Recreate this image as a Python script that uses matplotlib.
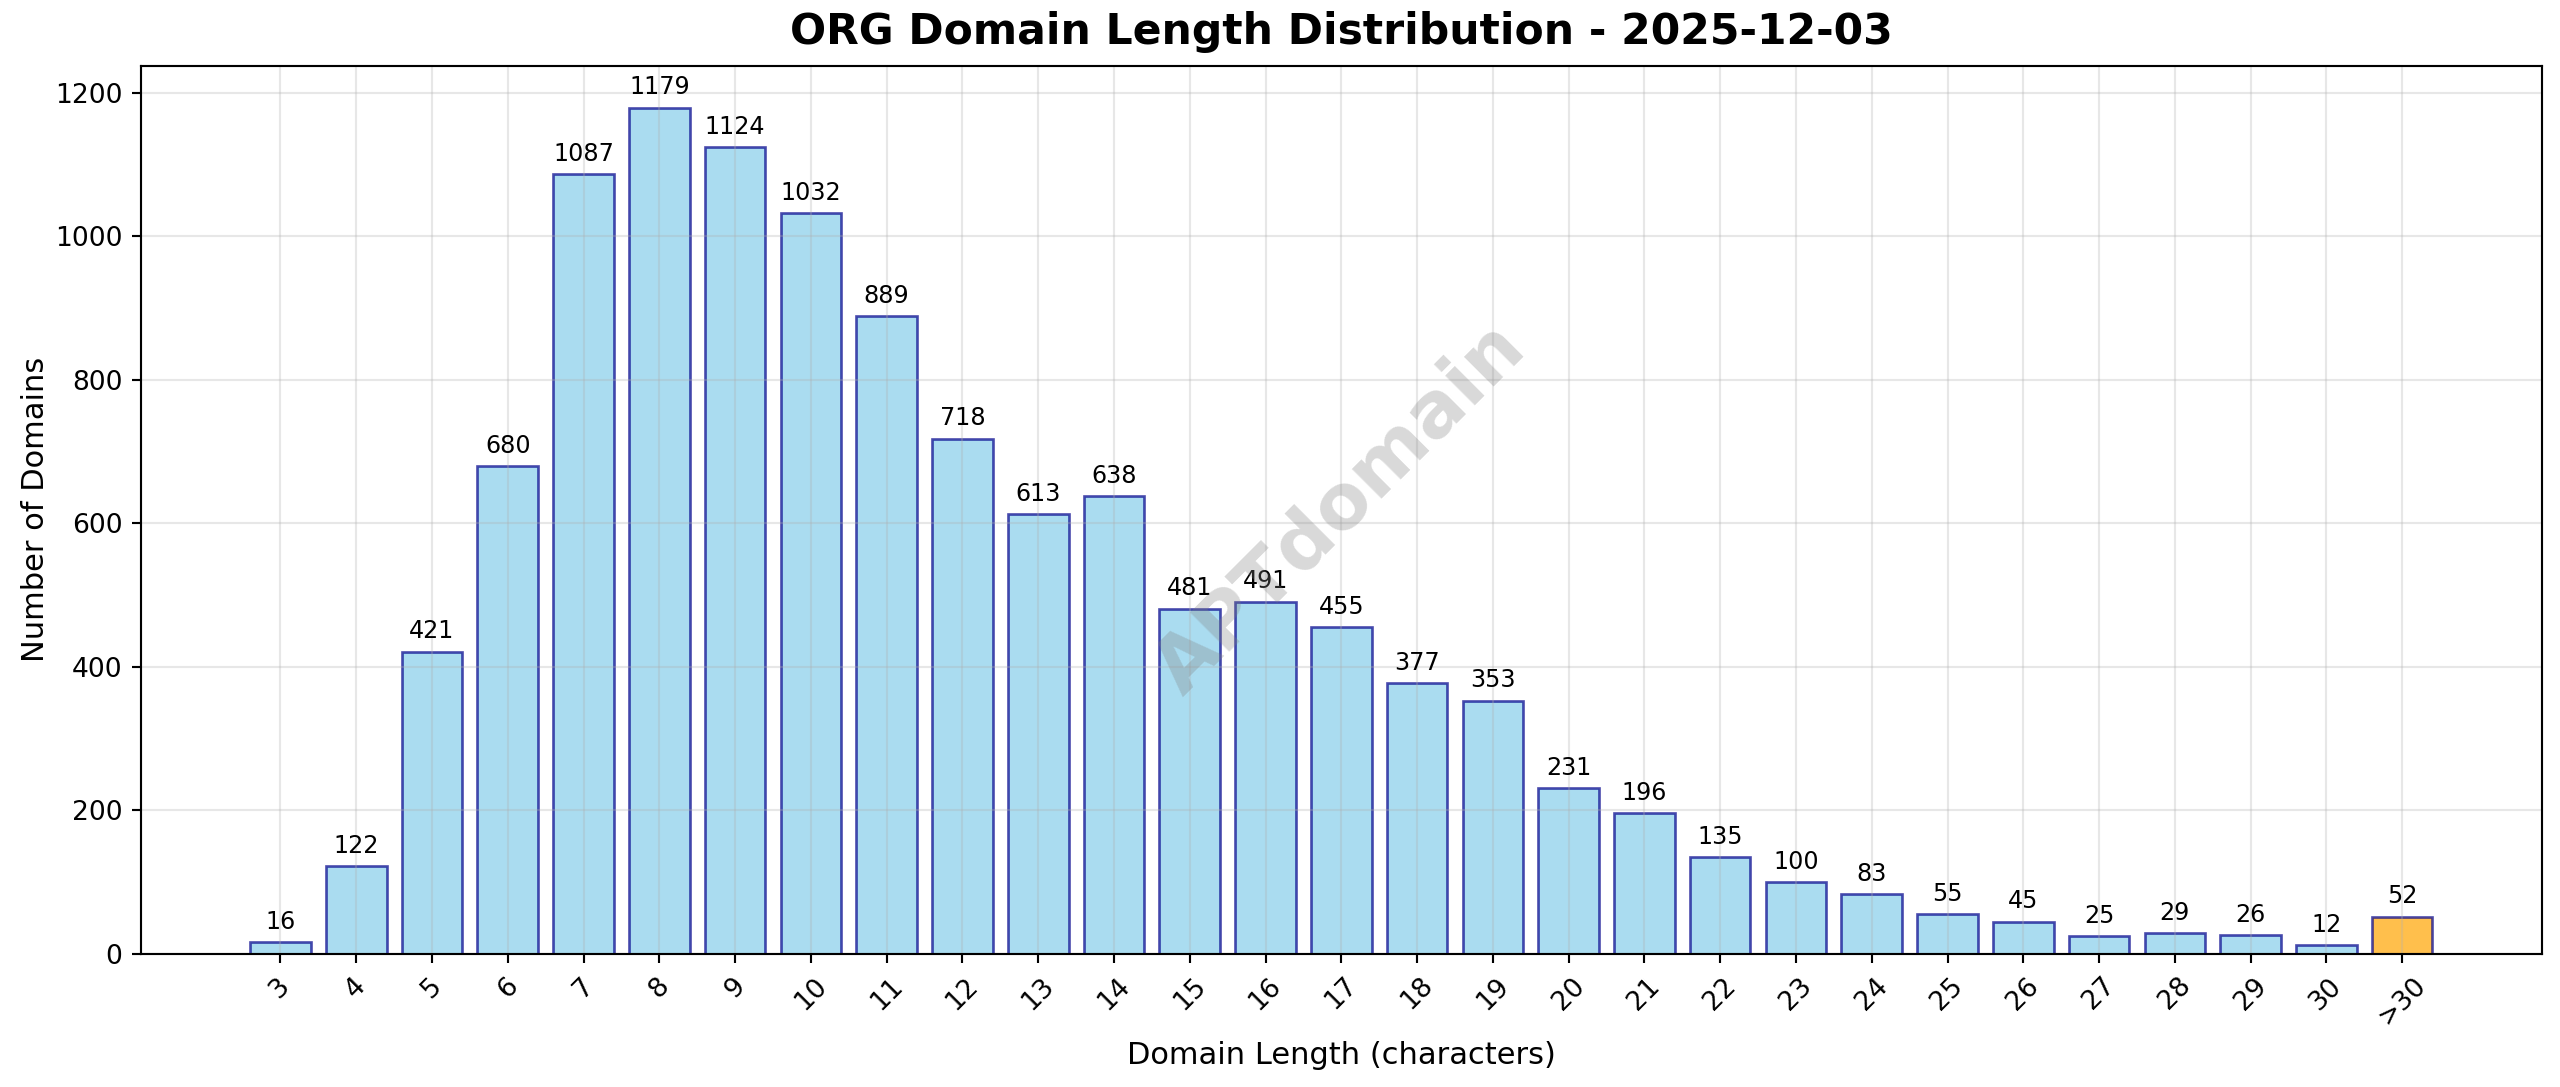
import matplotlib
matplotlib.use("Agg")
import matplotlib.pyplot as plt

# --- Chart data ---
LENGTH_LABELS = [str(n) for n in range(3, 31)] + [">30"]
COUNTS = [16, 122, 421, 680, 1087, 1179, 1124, 1032, 889, 718,
          613, 638, 481, 491, 455, 377, 353, 231, 196, 135,
          100, 83, 55, 45, 25, 29, 26, 12, 52]
TITLE = "ORG Domain Length Distribution - 2025-12-03"
WATERMARK = "APTdomain"

DPI = 191


def main():
    fig = plt.figure(figsize=(2560 / DPI, 1087 / DPI), dpi=DPI)
    ax = fig.add_axes([0.0551, 0.1224, 0.9377, 0.8172])

    colors = ["orange" if lab == ">30" else "skyblue" for lab in LENGTH_LABELS]
    bars = ax.bar(LENGTH_LABELS, COUNTS, color=colors, alpha=0.7,
                  edgecolor="darkblue", linewidth=1)

    # value labels on top of each bar
    top = max(COUNTS)
    for b, v in zip(bars, COUNTS):
        ax.text(b.get_x() + b.get_width() / 2, v + top * 0.01, str(v),
                ha="center", va="bottom", fontsize=9)

    ax.set_title(TITLE, fontsize=16, fontweight="bold", pad=8)
    ax.set_xlabel("Domain Length (characters)", fontsize=11.5, labelpad=4)
    ax.set_ylabel("Number of Domains", fontsize=11.5, labelpad=2)
    ax.tick_params(axis="x", rotation=45)
    ax.grid(True, alpha=0.3)

    ax.text(0.5, 0.5, WATERMARK, transform=ax.transAxes, fontsize=29,
            fontweight="bold", color="gray", alpha=0.3, rotation=45,
            ha="center", va="center")

    fig.savefig("out.png", dpi=DPI)


if __name__ == "__main__":
    main()
